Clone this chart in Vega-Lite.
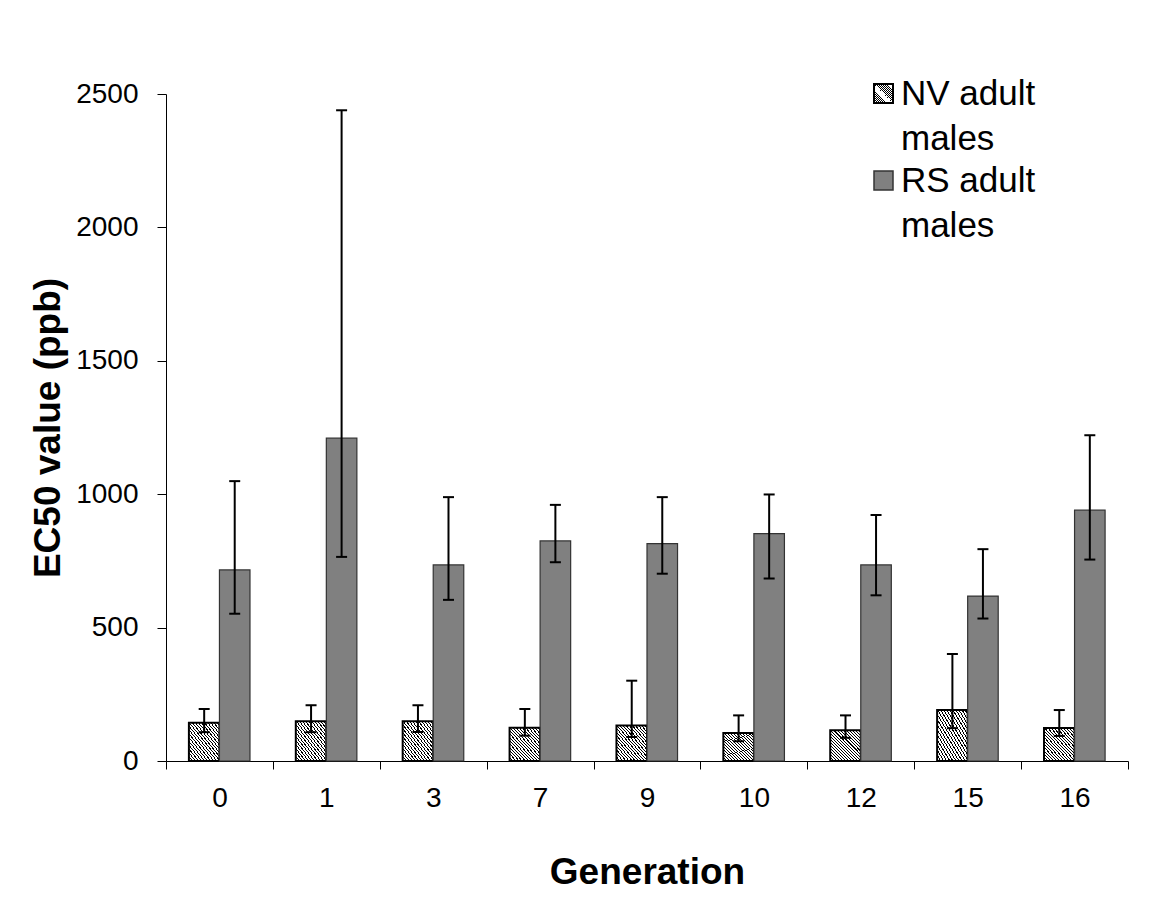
{
  "$schema": "https://vega.github.io/schema/vega-lite/v6.json",
  "width": 962,
  "height": 667,
  "autosize": {"type": "none"},
  "padding": {"left": 166, "top": 94, "right": 23, "bottom": 148},
  "background": "white",
  "config": {
    "font": "Liberation Sans",
    "view": {"stroke": null},
    "style": {"guide-label": {"lineHeight": 45}},
    "axis": {"domainColor": "black", "tickColor": "black", "labelColor": "black", "titleColor": "black", "grid": false, "domainWidth": 1, "tickWidth": 1},
    "legend": {"titleFontSize": 1, "padding": 0}
  },
  "resolve": {"scale": {"stroke": "independent"}, "legend": {"stroke": "independent"}},
  "data": {
    "values": [
      {"gen": "0", "series": "NV adult males", "value": 143, "lo": 108, "hi": 195},
      {"gen": "0", "series": "RS adult males", "value": 716, "lo": 552, "hi": 1049},
      {"gen": "1", "series": "NV adult males", "value": 149, "lo": 108, "hi": 209},
      {"gen": "1", "series": "RS adult males", "value": 1210, "lo": 765, "hi": 2439},
      {"gen": "3", "series": "NV adult males", "value": 149, "lo": 109, "hi": 209},
      {"gen": "3", "series": "RS adult males", "value": 735, "lo": 604, "hi": 989},
      {"gen": "7", "series": "NV adult males", "value": 125, "lo": 95, "hi": 195},
      {"gen": "7", "series": "RS adult males", "value": 825, "lo": 745, "hi": 960},
      {"gen": "9", "series": "NV adult males", "value": 133, "lo": 90, "hi": 301},
      {"gen": "9", "series": "RS adult males", "value": 815, "lo": 702, "hi": 989},
      {"gen": "10", "series": "NV adult males", "value": 105, "lo": 74, "hi": 171},
      {"gen": "10", "series": "RS adult males", "value": 852, "lo": 684, "hi": 999},
      {"gen": "12", "series": "NV adult males", "value": 115, "lo": 87, "hi": 171},
      {"gen": "12", "series": "RS adult males", "value": 735, "lo": 621, "hi": 922},
      {"gen": "15", "series": "NV adult males", "value": 191, "lo": 123, "hi": 401},
      {"gen": "15", "series": "RS adult males", "value": 618, "lo": 534, "hi": 794},
      {"gen": "16", "series": "NV adult males", "value": 124, "lo": 94, "hi": 191},
      {"gen": "16", "series": "RS adult males", "value": 940, "lo": 755, "hi": 1221}
    ]
  },
  "encoding": {
    "x": {
      "field": "gen", "type": "nominal",
      "sort": ["0", "1", "3", "7", "9", "10", "12", "15", "16"],
      "scale": {"paddingInner": 0, "paddingOuter": 0},
      "axis": {
        "title": "Generation", "titleFontSize": 37, "titleFontWeight": "bold", "titlePadding": 42,
        "labelFontSize": 28, "labelAngle": 0, "labelPadding": 15, "tickSize": 8, "tickBand": "extent"
      }
    },
    "xOffset": {
      "field": "series", "type": "nominal",
      "scale": {"domain": ["NV adult males", "RS adult males"], "paddingInner": 0, "paddingOuter": 0.75}
    },
    "y": {
      "field": "value", "type": "quantitative",
      "scale": {"domain": [0, 2500], "nice": false},
      "axis": {
        "title": "EC50 value (ppb)", "titleFontSize": 37, "titleFontWeight": "bold", "titlePadding": 8,
        "values": [0, 500, 1000, 1500, 2000, 2500], "format": "d", "labelFontSize": 28, "labelPadding": 19, "tickSize": 9
      }
    }
  },
  "layer": [
    {
      "transform": [{"filter": "datum.series === 'NV adult males'"}],
      "mark": {
        "type": "bar", "strokeWidth": 2,
        "fill": {
          "gradient": "linear", "x1": 0, "y1": 1, "x2": 1, "y2": 0,
          "stops": [
            {"offset": 0, "color": "#000"}, {"offset": 0.0175, "color": "#000"}, {"offset": 0.0175, "color": "#fff"}, {"offset": 0.05, "color": "#fff"},
            {"offset": 0.05, "color": "#000"}, {"offset": 0.0675, "color": "#000"}, {"offset": 0.0675, "color": "#fff"}, {"offset": 0.1, "color": "#fff"},
            {"offset": 0.1, "color": "#000"}, {"offset": 0.1175, "color": "#000"}, {"offset": 0.1175, "color": "#fff"}, {"offset": 0.15, "color": "#fff"},
            {"offset": 0.15, "color": "#000"}, {"offset": 0.1675, "color": "#000"}, {"offset": 0.1675, "color": "#fff"}, {"offset": 0.2, "color": "#fff"},
            {"offset": 0.2, "color": "#000"}, {"offset": 0.2175, "color": "#000"}, {"offset": 0.2175, "color": "#fff"}, {"offset": 0.25, "color": "#fff"},
            {"offset": 0.25, "color": "#000"}, {"offset": 0.2675, "color": "#000"}, {"offset": 0.2675, "color": "#fff"}, {"offset": 0.3, "color": "#fff"},
            {"offset": 0.3, "color": "#000"}, {"offset": 0.3175, "color": "#000"}, {"offset": 0.3175, "color": "#fff"}, {"offset": 0.35, "color": "#fff"},
            {"offset": 0.35, "color": "#000"}, {"offset": 0.3675, "color": "#000"}, {"offset": 0.3675, "color": "#fff"}, {"offset": 0.4, "color": "#fff"},
            {"offset": 0.4, "color": "#000"}, {"offset": 0.4175, "color": "#000"}, {"offset": 0.4175, "color": "#fff"}, {"offset": 0.45, "color": "#fff"},
            {"offset": 0.45, "color": "#000"}, {"offset": 0.4675, "color": "#000"}, {"offset": 0.4675, "color": "#fff"}, {"offset": 0.5, "color": "#fff"},
            {"offset": 0.5, "color": "#000"}, {"offset": 0.5175, "color": "#000"}, {"offset": 0.5175, "color": "#fff"}, {"offset": 0.55, "color": "#fff"},
            {"offset": 0.55, "color": "#000"}, {"offset": 0.5675, "color": "#000"}, {"offset": 0.5675, "color": "#fff"}, {"offset": 0.6, "color": "#fff"},
            {"offset": 0.6, "color": "#000"}, {"offset": 0.6175, "color": "#000"}, {"offset": 0.6175, "color": "#fff"}, {"offset": 0.65, "color": "#fff"},
            {"offset": 0.65, "color": "#000"}, {"offset": 0.6675, "color": "#000"}, {"offset": 0.6675, "color": "#fff"}, {"offset": 0.7, "color": "#fff"},
            {"offset": 0.7, "color": "#000"}, {"offset": 0.7175, "color": "#000"}, {"offset": 0.7175, "color": "#fff"}, {"offset": 0.75, "color": "#fff"},
            {"offset": 0.75, "color": "#000"}, {"offset": 0.7675, "color": "#000"}, {"offset": 0.7675, "color": "#fff"}, {"offset": 0.8, "color": "#fff"},
            {"offset": 0.8, "color": "#000"}, {"offset": 0.8175, "color": "#000"}, {"offset": 0.8175, "color": "#fff"}, {"offset": 0.85, "color": "#fff"},
            {"offset": 0.85, "color": "#000"}, {"offset": 0.8675, "color": "#000"}, {"offset": 0.8675, "color": "#fff"}, {"offset": 0.9, "color": "#fff"},
            {"offset": 0.9, "color": "#000"}, {"offset": 0.9175, "color": "#000"}, {"offset": 0.9175, "color": "#fff"}, {"offset": 0.95, "color": "#fff"},
            {"offset": 0.95, "color": "#000"}, {"offset": 0.9675, "color": "#000"}, {"offset": 0.9675, "color": "#fff"}, {"offset": 1, "color": "#fff"}
          ]
        }
      },
      "encoding": {
        "stroke": {
          "field": "series", "type": "nominal",
          "scale": {"domain": ["NV adult males"], "range": ["#000000"]},
          "legend": {
            "title": null, "orient": "none", "legendX": 700, "legendY": -18,
            "symbolType": "square", "symbolSize": 361, "symbolStrokeWidth": 2,
            "labelFontSize": 35, "labelOffset": 0, "labelLimit": 400, "labelColor": "black",
            "labelExpr": "['NV adult', 'males']"
          }
        }
      }
    },
    {
      "transform": [{"filter": "datum.series === 'RS adult males'"}],
      "mark": {"type": "bar", "fill": "#808080", "strokeWidth": 1.2},
      "encoding": {
        "stroke": {
          "field": "series", "type": "nominal",
          "scale": {"domain": ["RS adult males"], "range": ["#333333"]},
          "legend": {
            "title": null, "orient": "none", "legendX": 700, "legendY": 69,
            "symbolType": "square", "symbolSize": 361, "symbolStrokeWidth": 1.5,
            "labelFontSize": 35, "labelOffset": 0, "labelLimit": 400, "labelColor": "black",
            "labelExpr": "['RS adult', 'males']"
          }
        }
      }
    },
    {
      "mark": {"type": "rule", "color": "black", "strokeWidth": 2},
      "encoding": {
        "y": {"field": "lo", "type": "quantitative"},
        "y2": {"field": "hi"}
      }
    },
    {
      "mark": {"type": "tick", "color": "black", "size": 11, "thickness": 2, "opacity": 1},
      "encoding": {
        "y": {"field": "hi", "type": "quantitative"}
      }
    },
    {
      "mark": {"type": "tick", "color": "black", "size": 11, "thickness": 2, "opacity": 1},
      "encoding": {
        "y": {"field": "lo", "type": "quantitative"}
      }
    }
  ]
}
